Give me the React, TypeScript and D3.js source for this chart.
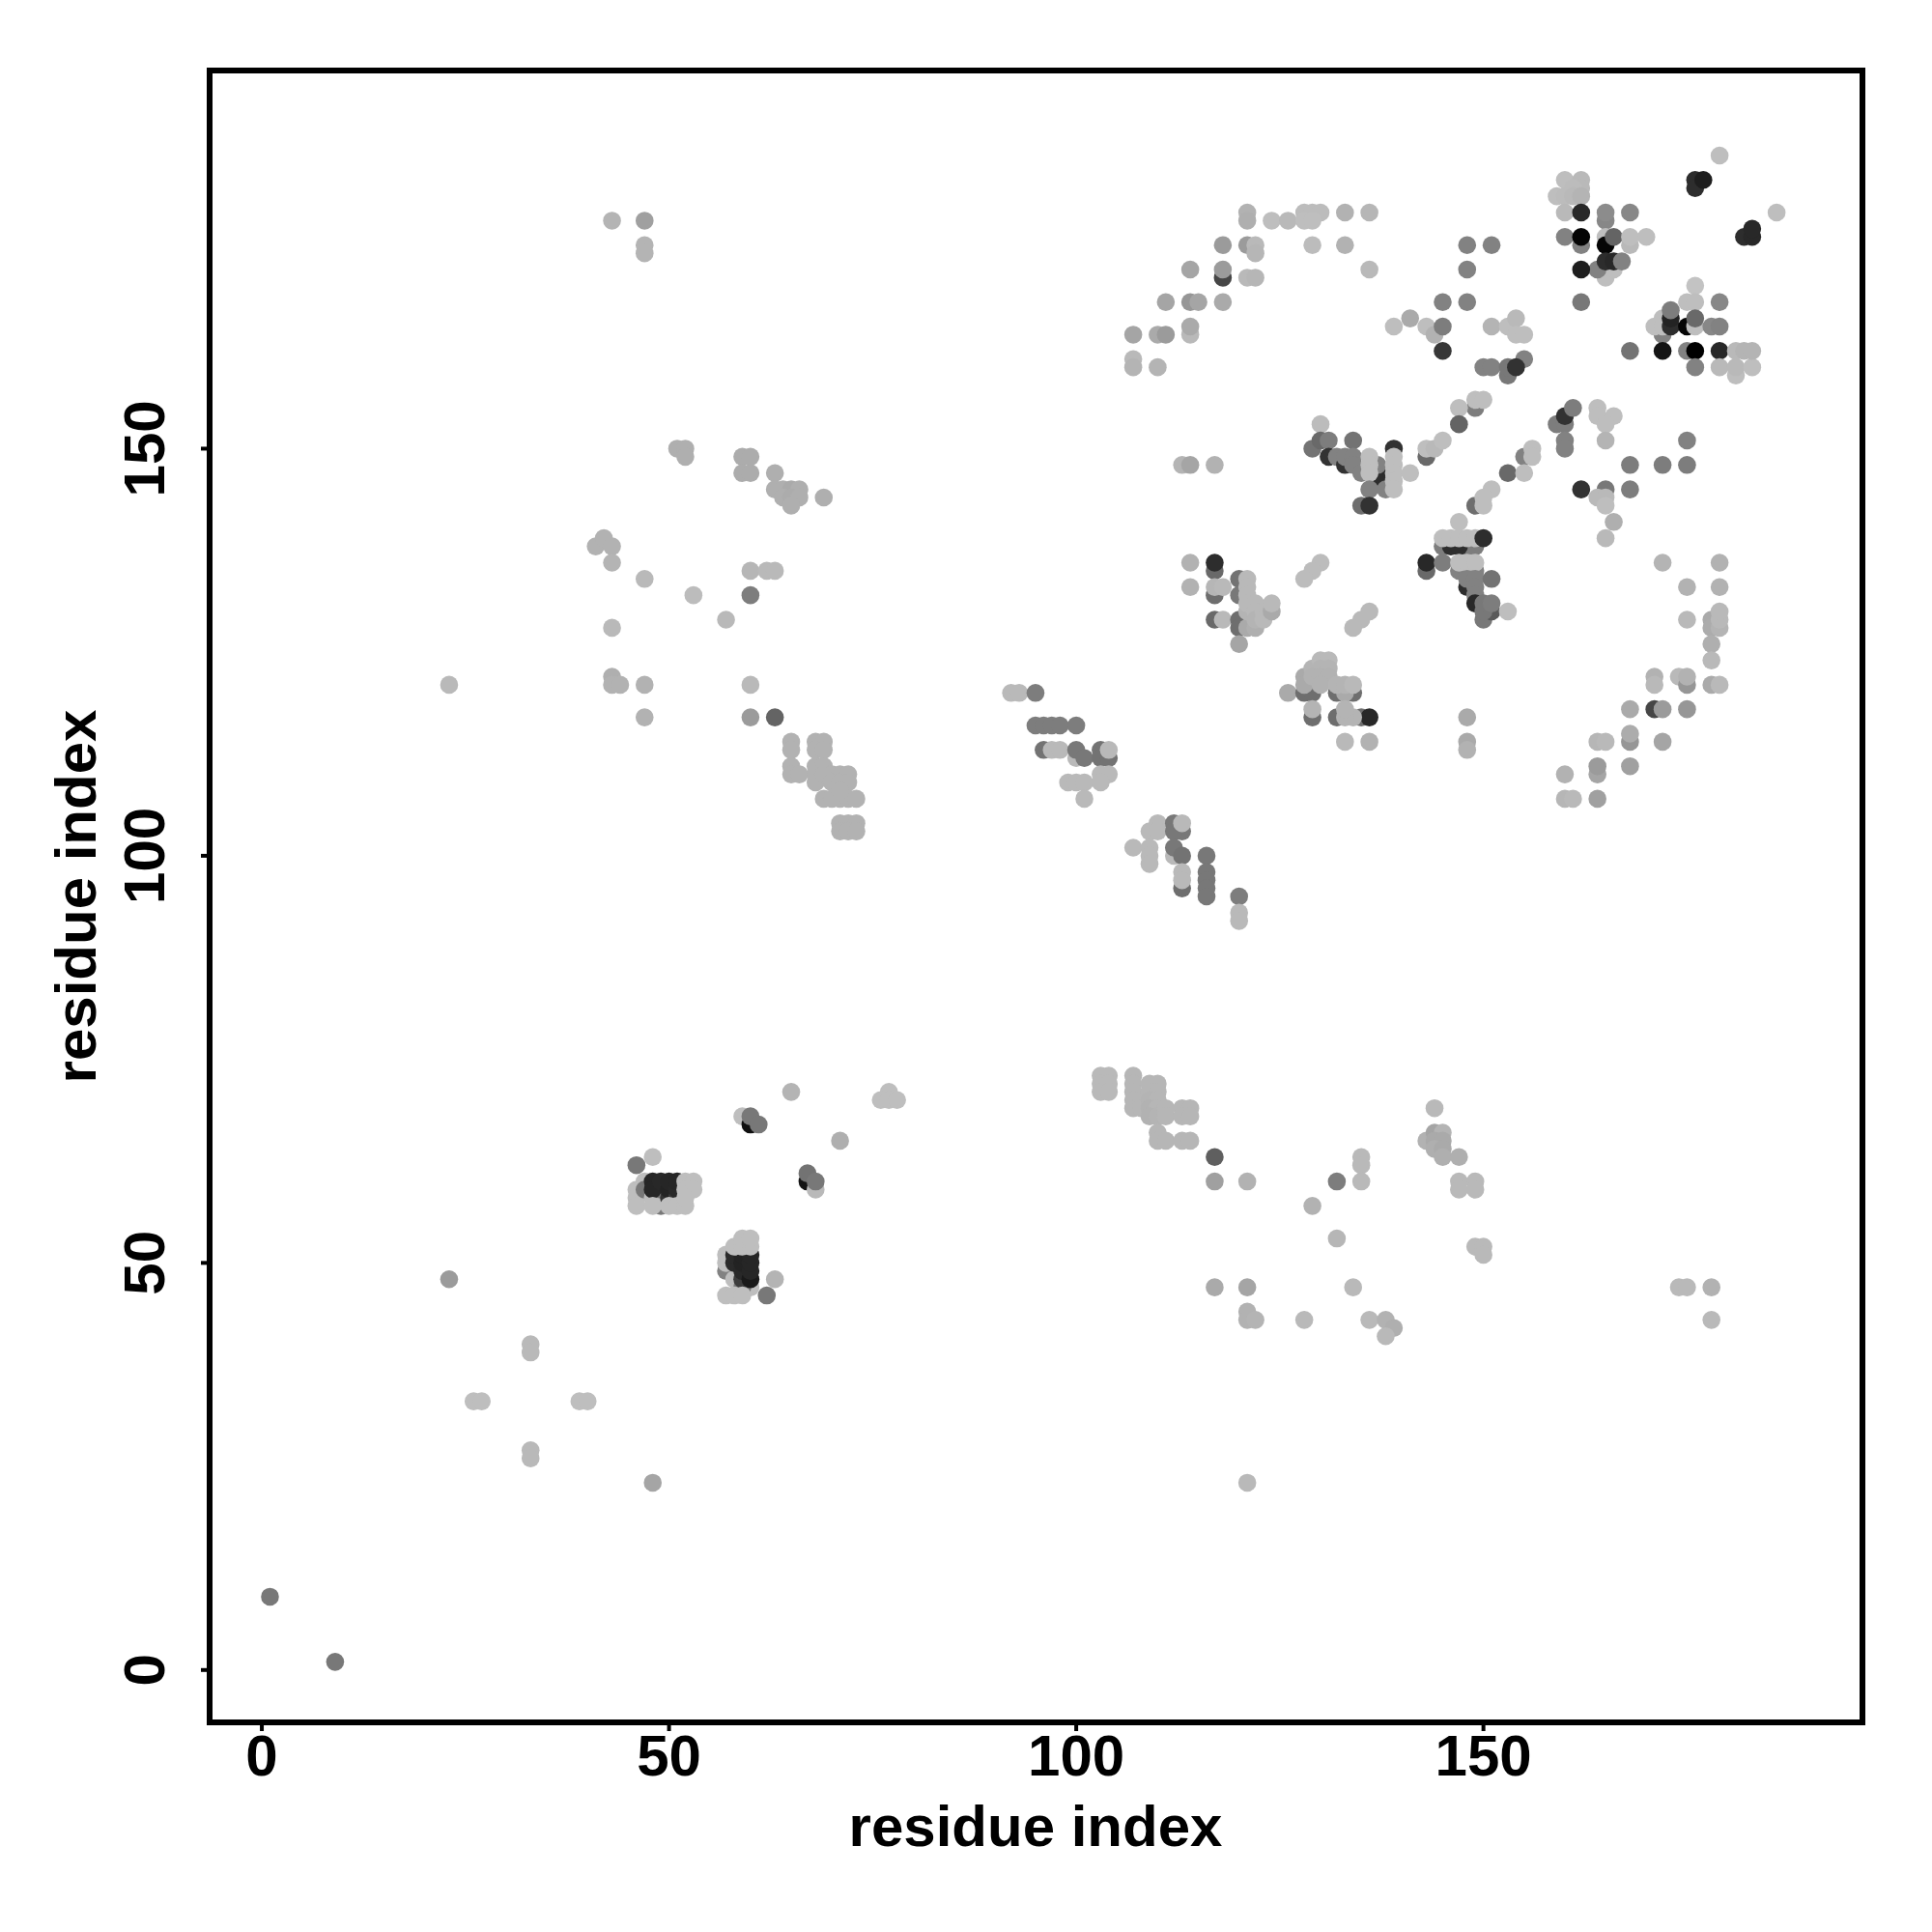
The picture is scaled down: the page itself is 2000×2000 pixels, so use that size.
import React from "react";
import * as d3 from "d3";

// each contact: [residue i, residue j, grey level]; order = paint order
type C = [number, number, number];

const arcTopLeft: C[] = [
  [121,179,178],[121,178,175],[124,178,190],[126,178,185],[128,179,188],[129,179,188],[130,179,188],[128,178,190],[129,178,190],
  [133,179,178],[136,179,182],[118,175,155],[121,175,155],[122,175,185],[122,174,182],[129,175,188],[133,175,178],
  [114,172,165],[118,171,70],[118,172,155],[121,171,185],[122,171,182],[136,172,185],
  [111,168,165],[114,168,150],[115,168,165],[118,168,170],
  [107,164,165],[110,164,170],[111,164,155],[114,164,185],[114,165,170],[107,161,185],[107,160,180],[110,160,180],
  [113,148,180],[114,148,165],[117,148,178],
];

const coreBlockA: C[] = [
  [130,153,188],[129,150,115],[130,151,105],[131,151,125],[131,149,50],[134,151,115],[132,149,130],[133,148,50],[133,149,130],
  [134,149,130],[134,148,130],[135,147,130],[137,147,45],[137,146,45],[137,148,130],[138,145,130],[136,149,190],[136,148,190],[136,147,190],
  [139,150,50],[139,149,190],[139,148,190],[139,147,190],[139,146,190],[139,145,190],[136,145,130],[141,147,190],
  [135,143,110],[136,143,50],[143,149,105],[143,150,190],[144,150,185],[145,151,190],
];

const bandNearDiagonal: C[] = [
  [139,165,190],[141,166,170],[143,165,190],[144,164,178],[145,165,125],[145,162,55],[145,168,130],
  [148,175,130],[151,175,130],[148,172,130],[148,168,130],
  [151,165,180],[153,165,190],[154,166,185],[154,164,190],[155,164,190],
  [150,160,130],[151,160,130],[153,159,120],[153,160,120],[155,161,130],[154,160,50],
  [149,155,125],[147,155,190],[149,156,190],[150,156,190],[147,153,100],
  [159,153,125],[160,153,125],[160,154,50],[161,155,125],[160,151,130],[160,150,130],
  [164,155,190],[164,154,190],[166,154,190],[165,153,190],[165,151,180],
  [175,151,130],[168,148,125],[172,148,125],[175,148,125],
  [155,149,130],[156,150,190],[156,149,190],[153,147,105],[155,147,190],[149,143,110],[151,145,190],[150,144,190],[150,143,190],
  [162,145,50],[165,145,120],[168,145,125],[164,144,185],[165,144,185],[165,143,190],[166,141,175],[165,139,185],
];

const topRightClusters: C[] = [
  [179,186,190],[176,183,45],[176,182,45],[177,183,30],
  [160,183,190],[162,183,185],[162,182,185],[161,182,188],[159,181,190],[160,181,188],[161,181,185],[162,181,180],
  [160,179,185],[162,179,40],[165,178,135],[165,179,140],[168,179,135],
  [160,176,130],[162,175,130],[162,176,5],[165,176,190],[165,175,5],[166,176,100],[168,175,185],[168,176,190],[170,176,190],
  [165,171,190],[165,172,190],[166,172,190],[164,172,130],[162,172,30],[165,173,45],[166,173,40],[167,173,130],[162,168,120],
  [186,179,190],[182,176,45],[183,176,40],[183,177,40],
  [176,170,195],[175,168,190],[176,168,190],[179,168,135],[172,164,130],[171,165,190],[172,166,190],[172,165,190],[173,165,45],[173,166,35],[173,167,125],
  [175,165,5],[176,165,190],[176,166,105],[178,165,135],[179,165,130],
  [168,162,115],[172,162,20],[175,162,130],[176,162,0],[179,162,40],[176,160,130],[179,160,185],[181,159,190],[181,160,185],[183,160,190],[181,162,185],[182,162,180],[183,162,180],
];

const coreBlockB: C[] = [
  [147,141,190],[145,138,125],[149,138,125],[148,138,125],[146,138,45],[147,138,45],[145,139,190],[146,139,190],[147,139,190],[148,139,190],[149,139,190],[150,139,45],
  [143,135,105],[143,136,40],[145,136,125],[147,135,130],[148,135,130],[149,135,130],[147,136,190],[148,136,190],[149,136,190],
  [148,133,45],[148,134,130],[149,134,130],[149,133,130],[149,132,130],[149,131,40],[151,134,115],[150,129,120],[151,130,90],[150,130,120],[150,131,120],[151,131,125],[153,130,190],
];

const arcRight: C[] = [
  [172,136,180],[179,136,178],[175,133,178],[179,133,178],[175,129,185],[178,129,170],[178,128,172],[179,128,180],[179,129,185],[179,130,185],
  [178,126,175],[178,124,185],[171,122,178],[171,121,185],[174,122,185],[175,121,150],[175,122,178],[178,121,170],[179,121,185],
  [168,118,170],[171,118,70],[172,118,155],[175,118,150],[164,114,182],[165,114,185],[168,114,150],[168,115,172],[172,114,165],
  [164,110,165],[164,111,155],[168,111,160],[160,110,178],[160,107,182],[161,107,185],[164,107,160],[148,117,170],[148,114,170],[148,113,178],
];

const midBlockUpper: C[] = [
  [114,136,178],[117,135,105],[117,136,45],[117,132,110],[117,133,182],[118,133,185],[114,133,178],
  [120,134,115],[120,132,120],[121,134,185],[121,133,185],[121,132,185],[117,129,105],[118,129,185],
  [120,129,110],[120,128,110],[121,128,170],[122,128,175],[121,130,180],[121,131,185],[122,131,185],[122,130,185],[122,129,180],[123,130,185],[123,129,185],[124,130,170],[124,131,185],[120,126,165],
  [130,136,188],[129,135,188],[128,134,188],[136,130,185],[135,129,185],[134,128,185],
];

const midBlockLower: C[] = [
  [126,120,170],[128,120,110],[129,120,110],[128,122,170],[128,121,170],[129,123,180],[130,124,185],[131,124,185],[130,123,180],[131,123,180],[129,122,178],[130,122,178],[131,122,178],[130,121,178],
  [132,120,110],[134,120,110],[133,120,170],[132,121,180],[133,121,180],[134,121,185],
  [129,117,110],[129,118,180],[132,117,110],[135,117,110],[136,117,40],[134,117,180],[133,117,180],[133,118,180],[133,114,185],[136,114,178],
];

const helixDiagonal: C[] = [
  [92,120,185],[93,120,185],[95,120,125],[95,116,125],[96,116,125],[97,116,125],[98,116,125],[100,116,125],
  [96,113,115],[97,113,185],[98,113,185],[100,112,185],[100,113,120],[101,112,120],[103,113,115],[103,112,115],[104,112,115],[104,113,185],
  [99,109,185],[100,109,185],[101,109,185],[103,110,185],[104,110,185],[103,109,185],[101,107,185],
  [110,104,185],[109,103,185],[110,103,185],[112,104,120],[113,103,120],[112,103,120],[113,104,185],
  [107,101,185],[109,101,185],[109,100,185],[109,99,185],[112,100,185],[112,101,120],[113,100,115],
  [113,96,110],[113,98,185],[113,97,185],[116,100,120],[116,98,120],[116,97,120],[116,96,120],[116,95,120],[120,95,125],[120,93,185],[120,92,185],
];

const upperLeft: C[] = [
  [51,150,175],[52,150,175],[52,149,175],[59,149,172],[60,149,172],[59,147,172],[60,147,172],[63,147,175],[63,145,175],[64,145,175],[65,145,170],[66,145,175],[64,144,175],[65,144,172],[66,144,175],[65,143,175],[69,144,175],
  [41,138,178],[42,139,178],[43,138,178],[43,136,180],[47,134,185],[53,132,188],[60,135,182],[62,135,185],[63,135,185],[60,132,125],[57,129,185],[43,128,185],
  [43,122,175],[43,121,178],[44,121,178],[47,121,178],[60,121,185],[47,117,178],[60,117,155],[63,117,100],[23,121,185],
  [65,114,178],[65,113,178],[65,111,178],[65,110,178],[66,110,178],[68,114,178],[69,114,178],[68,113,178],[69,113,178],[68,111,178],[69,111,178],[68,110,178],[68,109,178],[69,110,178],
  [70,110,178],[71,110,178],[72,110,178],[70,109,178],[71,109,178],[72,109,178],[69,107,178],[70,107,178],[71,107,178],[72,107,178],[73,107,178],[71,108,178],
  [71,104,178],[72,104,178],[73,104,178],[71,103,178],[72,103,178],[73,103,178],
  [43,178,180],[47,178,160],[47,175,180],[47,174,180],
];

const lowerLeft: C[] = [
  [65,71,180],[77,71,190],[76,70,190],[77,70,190],[78,70,190],[71,65,175],
  [59,68,190],[60,67,15],[60,68,120],[61,67,120],[48,63,190],[46,62,120],
  [67,60,20],[68,59,185],[67,61,115],[68,60,120],
  [47,60,190],[46,59,190],[46,58,190],[46,57,190],[47,59,120],[49,57,120],[48,58,190],[49,59,120],
  [48,60,38],[48,59,38],[49,60,40],[50,58,50],[50,59,35],[50,60,38],[51,58,60],[51,59,40],[51,60,38],
  [48,57,190],[50,57,190],[51,57,190],[52,57,190],[52,60,190],[53,60,190],[52,59,190],[53,59,190],[52,58,190],
  [57,49,130],[57,50,190],[57,51,190],[58,48,190],[60,47,190],[59,47,120],
  [58,50,42],[58,51,42],[59,48,60],[59,49,40],[59,50,35],[59,51,35],[60,48,25],[60,49,38],[60,50,38],[60,51,38],
  [58,52,190],[59,52,190],[60,52,190],[59,53,190],[60,53,190],
  [63,48,180],[62,46,120],[57,46,190],[58,46,190],[59,46,190],
  [48,23,165],[23,48,155],[33,40,185],[33,39,185],[26,33,190],[27,33,190],[39,33,190],[40,33,190],[33,27,185],[33,26,185],
  [1,9,120],[9,1,120],
];

const lowerRight: C[] = [
  [103,73,185],[104,73,185],[103,72,185],[104,72,185],[103,71,185],[104,71,185],
  [107,73,182],[107,72,182],[107,71,182],[107,70,182],[107,69,182],[108,70,182],[108,69,182],
  [109,72,182],[110,72,182],[109,71,182],[110,71,182],[109,70,180],[110,70,182],[109,69,178],[110,69,182],[109,68,178],[110,68,180],[111,69,182],[111,68,182],
  [113,69,182],[114,69,182],[113,68,182],[114,68,182],[110,66,182],[110,65,182],[111,65,182],[113,65,182],[114,65,182],
  [117,63,95],[117,60,160],[121,60,178],[132,60,125],[135,63,185],[135,62,185],[135,60,185],[129,57,178],[132,53,182],
  [117,47,170],[121,47,165],[134,47,185],[121,44,178],[121,43,178],[122,43,180],[128,43,185],[136,43,185],[138,43,178],[139,42,175],[138,41,185],
  [144,69,185],[143,65,178],[144,66,165],[145,66,180],[144,65,170],[145,65,170],[144,64,175],[145,64,170],[145,63,175],[147,63,175],[147,60,185],[147,59,185],[149,60,185],[149,59,185],
  [149,52,185],[150,52,185],[150,51,185],[174,47,185],[175,47,185],[178,47,178],[178,43,185],[121,23,185],
];

const contactGroups = [arcTopLeft, coreBlockA, bandNearDiagonal, topRightClusters, coreBlockB, arcRight, midBlockUpper, midBlockLower, helixDiagonal, upperLeft, lowerLeft, lowerRight];

const xTickValues = [0, 50, 100, 150];
const yTickValues = [0, 50, 100, 150];
const xTitle = "residue index";
const yTitle = "residue index";

const FONT = '"Liberation Sans", Arial, sans-serif';

export default function App() {
  const frame = { l: 217, r: 1928, t: 73, b: 1783 };
  const x = d3.scaleLinear().domain([-6.41, 196.54]).range([frame.l, frame.r]);
  const y = d3.scaleLinear().domain([-6.43, 196.44]).range([frame.b, frame.t]);
  return (
    <svg width={2000} height={2000} style={{ position: "absolute", left: 0, top: 0, background: "#fff" }}>
      {contactGroups.map((g, gi) => (
        <g key={gi}>
          {g.map(([a, b, s], i) => (
            <circle key={i} cx={x(a)} cy={y(b)} r={9.3} fill={d3.rgb(s, s, s).formatHex()} />
          ))}
        </g>
      ))}
      <rect x={frame.l} y={frame.t} width={frame.r - frame.l} height={frame.b - frame.t} fill="none" stroke="#000" strokeWidth={6} />
      {xTickValues.map((t) => (
        <g key={t}>
          <line x1={x(t)} x2={x(t)} y1={frame.b} y2={frame.b + 9} stroke="#000" strokeWidth={4} />
          <text x={x(t)} y={1838} textAnchor="middle" fontFamily={FONT} fontWeight="bold" fontSize={60}>{t}</text>
        </g>
      ))}
      {yTickValues.map((t) => (
        <g key={t}>
          <line x1={frame.l - 9} x2={frame.l} y1={y(t)} y2={y(t)} stroke="#000" strokeWidth={4} />
          <text transform={`translate(170,${y(t)}) rotate(-90)`} textAnchor="middle" fontFamily={FONT} fontWeight="bold" fontSize={60}>{t}</text>
        </g>
      ))}
      <text x={1072} y={1911} textAnchor="middle" fontFamily={FONT} fontWeight="bold" fontSize={60}>{xTitle}</text>
      <text transform={`translate(99,928) rotate(-90)`} textAnchor="middle" fontFamily={FONT} fontWeight="bold" fontSize={60}>{yTitle}</text>
    </svg>
  );
}
